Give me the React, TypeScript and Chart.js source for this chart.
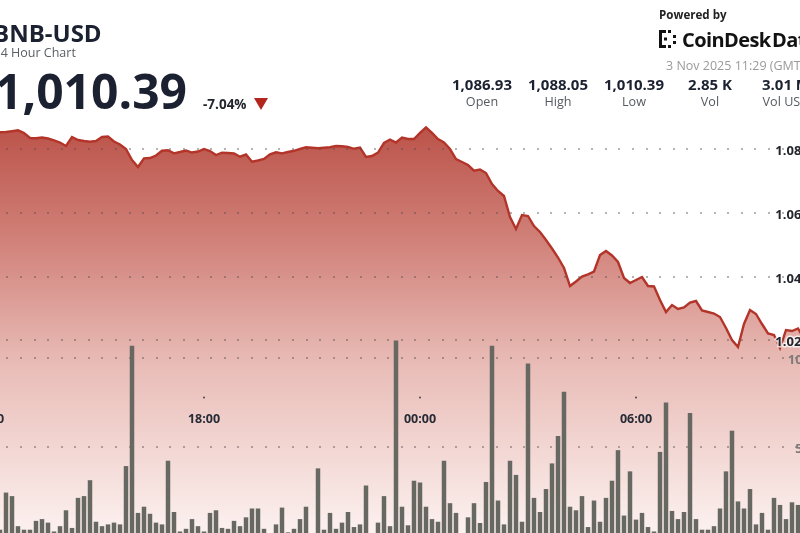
import React, { useEffect, useRef } from "react";
import { Chart, registerables } from "chart.js";

Chart.register(...registerables);

// ---- categories: 10-minute buckets starting 11:30 ----
const START_MINUTE = 11 * 60 + 30;
const CATEGORIES: string[] = Array.from({ length: 144 }, (_, i) => {
  const m = (START_MINUTE + i * 10) % 1440;
  return `${String(Math.floor(m / 60)).padStart(2, "0")}:${String(m % 60).padStart(2, "0")}`;
});

const X_TICK_LABELS = ["12:00", "18:00", "00:00", "06:00"];
const PRICE_TICKS = [1020, 1040, 1060, 1080];
const VOLUME_TICKS = [50, 100];

const PRICE = [
  1086.93, 1087.6, 1088.05, 1087.2, 1086.0,
  1085.35, 1085.44, 1085.69, 1085.97, 1085.13,
  1083.55, 1083.49, 1083.71, 1083.4, 1082.83,
  1082.14, 1081.04, 1083.87, 1082.92, 1082.61,
  1082.39, 1082.61, 1083.87, 1084.03, 1082.45,
  1081.51, 1080.09, 1076.64, 1074.43, 1077.17,
  1077.26, 1078.05, 1079.56, 1079.69, 1078.74,
  1079.15, 1079.62, 1078.99, 1079.31, 1080.09,
  1079.47, 1078.21, 1078.93, 1078.84, 1078.68,
  1077.67, 1078.36, 1076.1, 1076.48, 1076.95,
  1078.43, 1079.06, 1078.74, 1079.15, 1079.53,
  1080.09, 1080.63, 1080.47, 1080.31, 1080.47,
  1080.66, 1081.04, 1080.94, 1080.72, 1080.16,
  1080.57, 1077.58, 1077.89, 1078.99, 1081.98,
  1083.08, 1082.14, 1083.71, 1083.24, 1083.24,
  1085.13, 1086.86, 1085.13, 1083.24, 1082.14,
  1080.09, 1076.95, 1076.01, 1075.06, 1073.27,
  1073.65, 1072.55, 1069.09, 1066.89, 1065.31,
  1058.71, 1054.94, 1059.34, 1059.03, 1055.88,
  1053.99, 1051.48, 1048.81, 1045.97, 1042.67,
  1037.01, 1038.43, 1040.0, 1040.69, 1041.57,
  1046.76, 1048.02, 1046.6, 1044.56, 1039.53,
  1037.96, 1038.9, 1039.84, 1037.01, 1036.86,
  1032.61, 1028.84, 1031.04, 1029.78, 1030.25,
  1031.82, 1032.3, 1029.31, 1028.84, 1028.36,
  1027.26, 1023.81, 1020.03, 1017.83, 1025.06,
  1029.47, 1028.21, 1025.06, 1022.08, 1021.6,
  1017.52, 1023.18, 1022.86, 1023.65, 1020.5,
  1017.0, 1016.2, 1013.0, 1010.39,
];

const VOLUME = [
  10, 6, 14, 8, 4, 3,
  24, 22, 5, 3, 3, 8, 9, 7, 2, 5,
  14, 4, 21, 22, 31, 7.5, 5, 6, 7, 6,
  39, 107, 12.5, 16, 12, 7, 6, 42, 13, 2,
  3.5, 9, 5, 2, 12.5, 14, 4, 3.5, 8, 5,
  10, 15, 15, 3.5, 1, 6, 15.5, 1.5, 3.5, 9,
  16, 1, 37.7, 3, 12.5, 3.5, 7, 13, 4.5, 6,
  28, 0.5, 7, 22, 5, 110,
  16, 5.5, 30.7, 29.7, 16, 9, 7.5, 42, 18, 12.5,
  0.5, 10, 18, 6.8, 30, 107, 19.5, 6, 42, 34,
  7.5, 97, 21, 13, 26, 40.5, 56, 81, 16, 14,
  22, 4.5, 19.5, 7.5, 21, 30.7, 48, 11, 36, 8.7,
  12.5, 4.5, 2, 47, 75, 13.6, 9, 13, 69, 9,
  3, 3, 5, 15, 36, 59, 19, 15, 26, 6,
  12.5, 3, 21, 17, 9, 18.5, 17,
  12, 8, 20, 15, 6,
];

const STATS = [
  { value: "1,086.93", label: "Open" },
  { value: "1,088.05", label: "High" },
  { value: "1,010.39", label: "Low" },
  { value: "2.85 K", label: "Vol" },
  { value: "3.01 M", label: "Vol USD" },
];

const FONT = '"Open Sans", "Noto Sans", sans-serif';
const GRID_DOT = "rgba(80,74,74,0.42)";
const DOT_STEP = 13.6;
const DOT_OFFSET = 13.1;

const overlayPlugin = {
  id: "overlay",
  // dotted grid, drawn right after the filled price line so it sits above the fill
  afterDatasetDraw(chart: any, args: any) {
    if (args.index !== 0) return;
    const { ctx, chartArea } = chart;
    const ys = chart.scales.y;
    const yv = chart.scales.yv;
    const rows = [
      ...ys.ticks.map((t: any) => ys.getPixelForValue(t.value)),
      ...yv.ticks.map((t: any) => yv.getPixelForValue(t.value)),
    ];
    ctx.save();
    ctx.fillStyle = GRID_DOT;
    rows.forEach((py: number) => {
      const ry = Math.round(py) - 1;
      for (let x = chartArea.left + DOT_OFFSET; x < chartArea.right; x += DOT_STEP) {
        ctx.fillRect(Math.round(x) - 1, ry, 2, 2);
      }
    });
    ctx.restore();
  },
  afterDraw(chart: any) {
    const { ctx, chartArea } = chart;
    const xs = chart.scales.x;
    const ys = chart.scales.y;
    const yv = chart.scales.yv;
    ctx.save();
    // x time labels (drawn inside the plot)
    ctx.font = `bold 12.5px ${FONT}`;
    ctx.textAlign = "center";
    ctx.textBaseline = "alphabetic";
    X_TICK_LABELS.forEach((lbl) => {
      const idx = CATEGORIES.indexOf(lbl);
      const px = xs.getPixelForValue(idx);
      ctx.fillStyle = "#3a3a3a";
      ctx.beginPath();
      ctx.arc(px, 397.5, 0.9, 0, Math.PI * 2);
      ctx.fill();
      ctx.fillStyle = "#262b36";
      ctx.fillText(lbl, px, 422.5);
    });
    // price labels
    const rightX = chartArea.right - 21;
    ctx.textAlign = "right";
    ctx.font = `bold 13px ${FONT}`;
    ys.ticks.forEach((t: any) => {
      const py = ys.getPixelForValue(t.value) + 6;
      const txt = (t.value / 1000).toFixed(2) + "K";
      ctx.lineWidth = 3;
      ctx.strokeStyle = "rgba(255,255,255,0.75)";
      ctx.strokeText(txt, rightX, py);
      ctx.fillStyle = "#22252c";
      ctx.fillText(txt, rightX, py);
    });
    // volume labels
    yv.ticks.forEach((t: any) => {
      const py = yv.getPixelForValue(t.value) + 6;
      ctx.fillStyle = "#7d7a79";
      ctx.fillText(String(t.value), rightX, py);
    });
    ctx.restore();
  },
};

function ChartCanvas() {
  const ref = useRef<HTMLCanvasElement | null>(null);
  useEffect(() => {
    if (!ref.current) return;
    const chart = new Chart(ref.current, {
      type: "bar",
      data: {
        labels: CATEGORIES,
        datasets: [
          {
            type: "line",
            data: PRICE,
            yAxisID: "y",
            borderColor: "#b3352a",
            borderWidth: 2.4,
            pointRadius: 0,
            tension: 0,
            fill: "start",
            order: 2,
            backgroundColor: (c: any) => {
              const { chart } = c;
              const area = chart.chartArea;
              if (!area) return "rgba(200,100,90,0.5)";
              const g = chart.ctx.createLinearGradient(0, area.top, 0, area.bottom);
              g.addColorStop(0, "rgb(184,76,66)");
              g.addColorStop(0.3, "rgb(208,128,120)");
              g.addColorStop(0.6, "rgb(233,188,183)");
              g.addColorStop(1, "rgb(252,242,240)");
              return g;
            },
          } as any,
          {
            type: "bar",
            data: VOLUME,
            yAxisID: "yv",
            backgroundColor: "rgb(104,104,98)",
            borderWidth: 0,
            barPercentage: 0.75,
            categoryPercentage: 1,
            order: 1,
          } as any,
        ],
      },
      options: {
        animation: false,
        responsive: false,
        devicePixelRatio: 1,
        layout: { padding: { left: 7, right: 29, top: 110, bottom: 10 } },
        plugins: { legend: { display: false }, tooltip: { enabled: false } },
        scales: {
          x: { type: "category", display: false, offset: true },
          y: {
            position: "right",
            min: 958.71,
            max: 1092.36,
            afterBuildTicks: (s: any) => {
              s.ticks = PRICE_TICKS.map((v) => ({ value: v }));
            },
            ticks: { display: false },
            grid: { display: false, drawTicks: false },
            border: { display: false },
          },
          yv: {
            position: "right",
            min: 0,
            max: 240.4,
            afterBuildTicks: (s: any) => {
              s.ticks = VOLUME_TICKS.map((v) => ({ value: v }));
            },
            ticks: { display: false },
            grid: { display: false, drawTicks: false },
            border: { display: false },
          },
        },
      } as any,
      plugins: [overlayPlugin],
    });
    return () => chart.destroy();
  }, []);
  return (
    <canvas
      ref={ref}
      width={900}
      height={545}
      style={{ position: "absolute", left: -40, top: 0, width: 900, height: 545 }}
    />
  );
}

function Logo() {
  return (
    <svg width="22" height="20" viewBox="0 0 22 20" style={{ position: "absolute", left: 658, top: 29 }}>
      <g fill="#121212">
        <rect x="1" y="1" width="3" height="18" />
        <rect x="1" y="1" width="7" height="3" />
        <rect x="1" y="16" width="7" height="3" />
        <rect x="10" y="1" width="3" height="3" />
        <rect x="10" y="16" width="3" height="3" />
        <rect x="6" y="8.5" width="3" height="3" />
        <rect x="15" y="6" width="3" height="3" />
        <rect x="15" y="12" width="3" height="3" />
      </g>
    </svg>
  );
}

const abs = (left: number, top: number, size: number, extra: any = {}) => ({
  position: "absolute" as const,
  left,
  top,
  fontSize: size,
  lineHeight: 1,
  whiteSpace: "nowrap" as const,
  fontFamily: FONT,
  ...extra,
});

export default function App() {
  return (
    <div
      style={{
        position: "fixed",
        left: 0,
        top: 0,
        width: 800,
        height: 533,
        overflow: "hidden",
        background: "#fff",
        fontFamily: FONT,
      }}
    >
      <ChartCanvas />
      <div style={abs(-7, 21, 24, { fontWeight: 700, color: "#1b2130" })}>BNB-USD</div>
      <div style={abs(-6.5, 47, 12.5, { color: "#5a5f66" })}>24 Hour Chart</div>
      <div style={abs(-5, 67, 48, { fontWeight: 700, color: "#1b2130" })}>1,010.39</div>
      <div style={abs(203, 98, 13.5, { fontWeight: 700, color: "#23262d" })}>-7.04%</div>
      <div
        style={{
          position: "absolute",
          left: 254,
          top: 98,
          width: 0,
          height: 0,
          borderLeft: "7px solid transparent",
          borderRight: "7px solid transparent",
          borderTop: "12px solid #b3261e",
        }}
      />
      <div style={abs(659, 8.5, 11.6, { fontWeight: 700, color: "#222" })}>Powered by</div>
      <Logo />
      <div style={abs(682, 29.5, 20, { fontWeight: 700, color: "#121212", letterSpacing: -0.6 })}>
        CoinDesk{"\u200A"}Data
      </div>
      <div style={abs(666, 60, 12.5, { color: "#9a9a9a" })}>3 Nov 2025 11:29 (GMT)</div>
      {STATS.map((s, i) => {
        const cx = 482 + i * 76;
        return (
          <React.Fragment key={s.label}>
            <div style={abs(cx - 45, 77.3, 15, { width: 90, textAlign: "center", fontWeight: 700, color: "#1b2130" })}>
              {s.value}
            </div>
            <div style={abs(cx - 45, 96.3, 12.6, { width: 90, textAlign: "center", color: "#555a60" })}>
              {s.label}
            </div>
          </React.Fragment>
        );
      })}
    </div>
  );
}
